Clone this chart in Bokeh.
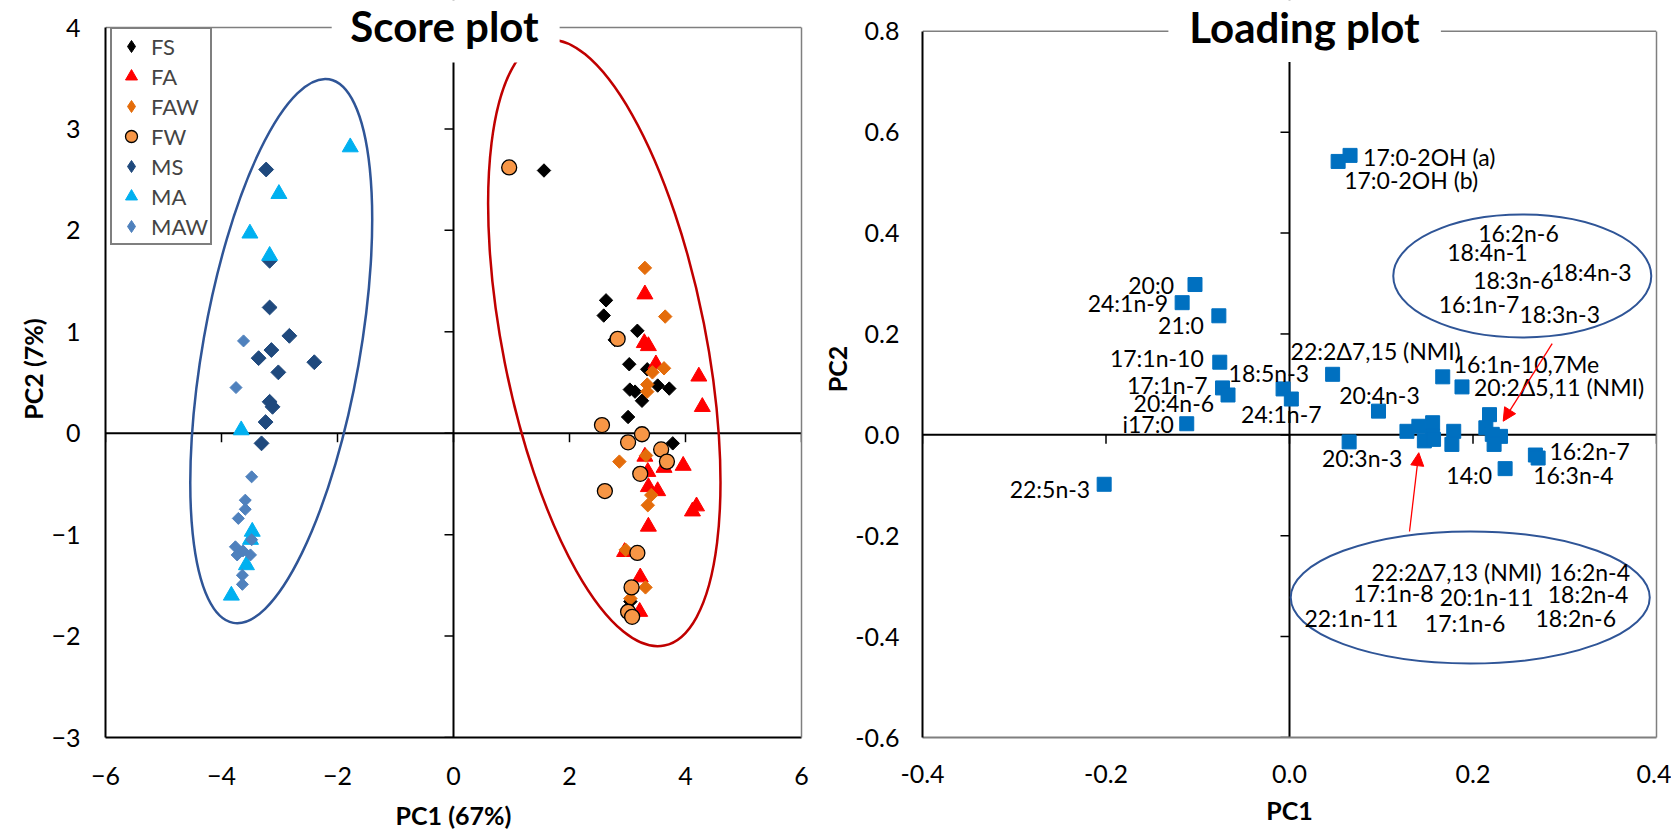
import math
from bokeh.plotting import figure
from bokeh.models import (LinearAxis, FixedTicker, Label, Legend, LegendItem, Arrow, Span,
                          NormalHead, ColumnDataSource, NumeralTickFormatter, BoxAnnotation)
from bokeh.layouts import row
from bokeh.embed import file_html
from bokeh.resources import INLINE
from bokeh.core.properties import value

FONT = "Lato"

# ---------------- Score plot data ----------------
groups = ["FS", "FA", "FAW", "FW", "MS", "MA", "MAW"]

fs_pc1 = [1.56, 2.63, 2.59, 3.17, 2.78, 3.03, 3.34, 3.04, 3.13, 3.52, 3.72, 3.25, 3.01, 3.78, 3.05]
fs_pc2 = [2.59, 1.31, 1.16, 1.01, 0.92, 0.68, 0.63, 0.43, 0.41, 0.47, 0.44, 0.32, 0.16, -0.10, -1.66]

fa_pc1 = [3.30, 3.29, 3.36, 3.49, 4.23, 4.29, 3.30, 3.35, 3.63, 3.96, 3.36, 3.52, 4.19, 4.12, 3.36, 2.95, 3.22, 3.21]
fa_pc2 = [1.37, 0.89, 0.86, 0.68, 0.56, 0.26, -0.23, -0.38, -0.34, -0.32, -0.53, -0.57, -0.72, -0.77, -0.92, -1.17, -1.42, -1.76]

faw_pc1 = [3.30, 3.65, 3.63, 3.43, 3.34, 3.34, 2.86, 3.32, 3.41, 3.35, 2.97, 3.31, 3.05]
faw_pc2 = [1.63, 1.15, 0.64, 0.60, 0.48, 0.41, -0.28, -0.22, -0.61, -0.71, -1.15, -1.52, -1.63]

fw_pc1 = [0.96, 2.83, 2.56, 3.25, 3.01, 3.58, 3.68, 3.22, 2.61, 3.17, 3.07, 3.01, 3.08]
fw_pc2 = [2.62, 0.93, 0.08, -0.01, -0.09, -0.16, -0.28, -0.40, -0.57, -1.18, -1.52, -1.76, -1.81]

ms_pc1 = [-3.23, -3.17, -3.17, -2.83, -3.14, -3.36, -2.40, -3.02, -3.17, -3.12, -3.24, -3.31]
ms_pc2 = [2.60, 1.70, 1.24, 0.96, 0.82, 0.74, 0.70, 0.60, 0.31, 0.26, 0.11, -0.10]

ma_pc1 = [-1.78, -3.01, -3.51, -3.17, -3.66, -3.47, -3.50, -3.57, -3.83]
ma_pc2 = [2.82, 2.36, 1.97, 1.75, 0.03, -0.97, -1.05, -1.30, -1.60]

maw_pc1 = [-3.62, -3.75, -3.48, -3.59, -3.59, -3.71, -3.48, -3.76, -3.73, -3.50, -3.63, -3.64, -3.64]
maw_pc2 = [0.91, 0.45, -0.43, -0.66, -0.75, -0.84, -1.05, -1.12, -1.20, -1.20, -1.16, -1.40, -1.49]

score_x_ticks = [-6, -4, -2, 0, 2, 4, 6]
score_y_ticks = [-3, -2, -1, 0, 1, 2, 3, 4]

# ---------------- Loading plot data ----------------
load_names = ["17:0-2OH (a)", "17:0-2OH (b)", "20:0", "24:1n-9", "21:0", "17:1n-10", "17:1n-7",
              "20:4n-6", "i17:0", "18:5n-3", "24:1n-7", "22:2Δ7,15 (NMI)", "20:4n-3", "20:3n-3",
              "16:1n-10,7Me", "20:2Δ5,11 (NMI)", "16:2n-7", "16:3n-4", "14:0", "22:5n-3",
              "", "", "", "", "", "", "", "", "", "", "", "", ""]
load_pc1 = [0.066, 0.053, -0.103, -0.117, -0.077, -0.076, -0.073, -0.067, -0.112, -0.007, 0.002,
            0.047, 0.097, 0.065, 0.167, 0.188, 0.268, 0.271, 0.235, -0.202,
            0.128, 0.141, 0.156, 0.156, 0.147, 0.157, 0.179, 0.177, 0.218, 0.214, 0.221, 0.230, 0.223]
load_pc2 = [0.554, 0.542, 0.298, 0.262, 0.236, 0.144, 0.093, 0.079, 0.022, 0.091, 0.071,
            0.120, 0.047, -0.014, 0.115, 0.095, -0.040, -0.046, -0.067, -0.098,
            0.007, 0.017, 0.024, -0.003, -0.012, -0.009, 0.007, -0.019, 0.040, 0.014, 0.001, -0.003, -0.019]

upper_group = ["16:2n-6", "18:4n-1", "18:3n-6", "18:4n-3", "16:1n-7", "18:3n-3"]
lower_group = ["22:2Δ7,13 (NMI)", "16:2n-4", "17:1n-8", "20:1n-11", "18:2n-4",
               "22:1n-11", "17:1n-6", "18:2n-6"]

load_x_ticks = [-0.4, -0.2, 0.0, 0.2, 0.4]
load_y_ticks = [-0.6, -0.4, -0.2, 0.0, 0.2, 0.4, 0.6, 0.8]

TICK_PX = 9
NAN = float("nan")


def make_panel(xr, yr, frame_w, frame_h, top_px, xt, yt, xlabel, ylabel, fmt,
               bl, br, bb, ystand, xstand, ylab_stand, xlab_stand, bottom_col):
    """Frame extends top_px above the upper axis limit so the title can sit on the top border."""
    sy = frame_h / (yr[1] - yr[0])
    sx = frame_w / (xr[1] - xr[0])
    y_top = yr[1] + top_px / sy
    p = figure(width=bl + frame_w + br, height=frame_h + top_px + bb,
               x_range=xr, y_range=(yr[0], y_top),
               output_backend="svg", toolbar_location=None,
               min_border_left=bl, min_border_right=br, min_border_top=0, min_border_bottom=bb)
    p.grid.visible = False
    p.outline_line_color = None
    for ax, ticks in ((p.xaxis[0], xt), (p.yaxis[0], yt)):
        ax.ticker = FixedTicker(ticks=ticks)
        if fmt:
            ax.formatter = NumeralTickFormatter(format=fmt)
        ax.major_tick_line_color = None
        ax.minor_tick_line_color = None
        ax.major_tick_out = 0
        ax.major_tick_in = 0
        ax.minor_tick_out = 0
        ax.minor_tick_in = 0
        ax.axis_line_width = 2
        ax.major_label_text_font = FONT
        ax.major_label_text_font_size = "25px"
        ax.major_label_text_color = "black"
        ax.axis_label_text_font = FONT
        ax.axis_label_text_font_size = "25px"
        ax.axis_label_text_font_style = "bold"
        ax.axis_label_text_color = "black"
    p.yaxis[0].bounds = yr
    p.yaxis[0].axis_line_color = "black"
    p.xaxis[0].axis_line_color = bottom_col
    p.yaxis[0].major_label_standoff = ystand
    p.xaxis[0].major_label_standoff = xstand
    p.yaxis[0].axis_label_standoff = ylab_stand
    p.xaxis[0].axis_label_standoff = xlab_stand
    p.xaxis[0].axis_label = xlabel
    p.yaxis[0].axis_label = ylabel
    # right border (stops at the upper limit)
    rb = LinearAxis(ticker=FixedTicker(ticks=[]), bounds=yr, axis_line_color="#7f7f7f",
                    axis_line_width=1.5, major_tick_in=0, major_tick_out=0,
                    minor_tick_in=0, minor_tick_out=0, major_label_standoff=0)
    p.add_layout(rb, "right")
    # top border
    p.add_layout(Span(location=yr[1], dimension="width", line_color="#7f7f7f", line_width=1.5,
                      level="underlay"))
    # axes through the origin
    p.add_layout(Span(location=0, dimension="width", line_color="black", line_width=2, level="underlay"))
    p.add_layout(Span(location=0, dimension="height", line_color="black", line_width=2, level="underlay"))
    p.segment(x0=xt, y0=[0] * len(xt), x1=xt, y1=[-TICK_PX / sy] * len(xt),
              line_color="black", line_width=1.5)
    p.segment(x0=[0] * len(yt), y0=yt, x1=[-TICK_PX / sx] * len(yt), y1=yt,
              line_color="black", line_width=1.5)
    return p


def title_box(p, text, x, y, left, right, bottom):
    p.add_layout(BoxAnnotation(left=left, right=right, bottom=bottom, fill_color="white",
                               fill_alpha=1.0, line_color=None))
    p.add_layout(Label(x=x, y=y, text=text, text_align="center", text_baseline="middle",
                       text_font=FONT, text_font_size="42px", text_font_style="bold",
                       text_color="black"))


# ================= Score plot =================
p1 = make_panel((-6, 6), (-3, 4), 696, 710, 27, score_x_ticks, score_y_ticks,
                "PC1 (67%)", "PC2 (7%)", None, 105, 10, 101, 25, 29, 0, 12, "black")

p1.ellipse(x=[-2.97], y=[0.81], width=[552], height=[157], angle=[math.radians(80)],
           width_units="screen", height_units="screen",
           fill_color=None, line_color="#2F5597", line_width=2.5)
p1.ellipse(x=[2.60], y=[0.89], width=[617], height=[203], angle=[math.radians(101.2)],
           width_units="screen", height_units="screen",
           fill_color=None, line_color="#C00000", line_width=2.5)

D = math.pi / 4
series = [
    (fs_pc1, fs_pc2, "square", 9.5, "black", "black", "diamond"),
    (fa_pc1, fa_pc2, "triangle", 16, "#FF0000", "#FF0000", "triangle"),
    (faw_pc1, faw_pc2, "square", 9.5, "#E46C0A", "#E46C0A", "diamond"),
    (fw_pc1, fw_pc2, "circle", 15, "#F79646", "black", "circle"),
    (ms_pc1, ms_pc2, "square", 10.5, "#1F497D", "#1F497D", "diamond"),
    (ma_pc1, ma_pc2, "triangle", 16, "#00B0F0", "#00B0F0", "triangle"),
    (maw_pc1, maw_pc2, "square", 8.5, "#4F81BD", "#4F81BD", "diamond"),
]
items = []
for g, (xs, ys, mk, sz, fc, lc, lmk) in zip(groups, series):
    ang = D if mk == "square" else 0
    lw = 1.3 if mk == "circle" else 1
    p1.scatter(xs, ys, marker=mk, angle=ang, size=sz, fill_color=fc, line_color=lc, line_width=lw)
    # legend key swatch (a single undrawn NaN point) so diamonds show as diamonds in the key
    sw = p1.scatter([NAN], [NAN], marker=lmk, size=sz * (1.4 if lmk == "diamond" else 1),
                    fill_color=fc, line_color=lc, line_width=lw)
    items.append(LegendItem(label=g, renderers=[sw], index=0))

legend = Legend(items=items, location=(5, 492), padding=2, spacing=0,
                glyph_width=34, glyph_height=30, label_height=30, label_standoff=3,
                label_text_font=FONT, label_text_font_size="22px",
                border_line_color="black", border_line_width=2, background_fill_alpha=1)
p1.add_layout(legend)

title_box(p1, "Score plot", -0.155, 4.01, -2.10, 1.83, 3.655)

# ================= Loading plot =================
p2 = make_panel((-0.4, 0.4), (-0.6, 0.8), 734, 711, 31, load_x_ticks, load_y_ticks,
                "PC1", "PC2", "0.0", 111, 15, 96, 23, 27, 0, 9, "#7f7f7f")

p2.ellipse(x=[0.2537], y=[0.315], width=[258], height=[123], angle=[0],
           width_units="screen", height_units="screen",
           fill_color=None, line_color="#2F5597", line_width=2)
p2.ellipse(x=[0.197], y=[-0.3224], width=[359], height=[132], angle=[0],
           width_units="screen", height_units="screen",
           fill_color=None, line_color="#2F5597", line_width=2)

p2.scatter(load_pc1, load_pc2, marker="square", size=14, fill_color="#0070C0", line_color="#0070C0")

# label placement (pixel offsets from the point, alignment)
label_layout = {
    "17:0-2OH (a)": (13, 2, "left"),
    "17:0-2OH (b)": (6, 19, "left"),
    "20:0": (-21, 0, "right"),
    "24:1n-9": (-14, 0, "right"),
    "21:0": (-15, 9, "right"),
    "17:1n-10": (-16, -4, "right"),
    "17:1n-7": (-15, -3, "right"),
    "20:4n-6": (-14, 8, "right"),
    "i17:0": (-13, 0, "right"),
    "18:5n-3": (26, -16, "right"),
    "24:1n-7": (-10, 15, "center"),
    "22:2Δ7,15 (NMI)": (-42, -23, "left"),
    "20:4n-3": (1, -16, "center"),
    "20:3n-3": (13, 16, "center"),
    "16:1n-10,7Me": (11, -13, "left"),
    "20:2Δ5,11 (NMI)": (12, 0, "left"),
    "16:2n-7": (14, -4, "left"),
    "16:3n-4": (-5, 17, "left"),
    "14:0": (-13, 6, "right"),
    "22:5n-3": (-14, 5, "right"),
}
lx, ly, lt, ldx, ldy, lal = [], [], [], [], [], []
for n, x, y in zip(load_names, load_pc1, load_pc2):
    if n and n in label_layout:
        dx, dy, al = label_layout[n]
        lx.append(x); ly.append(y); lt.append(n); ldx.append(dx); ldy.append(dy); lal.append(al)
src = ColumnDataSource(dict(x=lx, y=ly, t=lt, dx=ldx, dy=ldy, al=lal))
p2.text(x="x", y="y", text="t", x_offset="dx", y_offset="dy", text_align="al", source=src,
        text_baseline="middle", text_font=value(FONT), text_font_size="23px", text_color="black")

# grouped names inside the ellipses (left edge positions in data units)
upper_pos = [(0.2057, 0.401), (0.1719, 0.362), (0.2002, 0.306), (0.2852, 0.323), (0.1627, 0.260), (0.2507, 0.240)]
lower_pos = [(0.0894, -0.271), (0.2834, -0.271), (0.0694, -0.313), (0.1638, -0.321), (0.2815, -0.316),
             (0.0163, -0.364), (0.1475, -0.373), (0.2681, -0.364)]
gx = [q[0] for q in upper_pos + lower_pos]
gy = [q[1] for q in upper_pos + lower_pos]
p2.text(x=gx, y=gy, text=upper_group + lower_group, text_align="left", text_baseline="middle",
        text_font=value(FONT), text_font_size="23px", text_color="black")

p2.add_layout(Arrow(end=NormalHead(size=13, fill_color="red", line_color="red"),
                    x_start=0.2863, y_start=0.181, x_end=0.2329, y_end=0.027,
                    line_color="red", line_width=1.3))
p2.add_layout(Arrow(end=NormalHead(size=13, fill_color="red", line_color="red"),
                    x_start=0.1308, y_start=-0.1916, x_end=0.1409, y_end=-0.0354,
                    line_color="red", line_width=1.3))

title_box(p2, "Loading plot", 0.0163, 0.8079, -0.132, 0.165, 0.739)

layout = row(p1, p2, spacing=0)
open("out.html", "w").write(file_html(layout, INLINE))
